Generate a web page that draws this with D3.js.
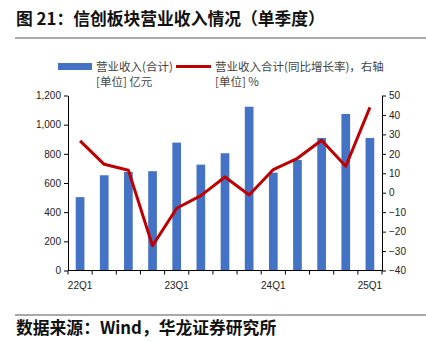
<!DOCTYPE html>
<html>
<head>
<meta charset="utf-8">
<script src="https://cdn.jsdelivr.net/npm/d3@7"></script>
<style>
  html, body { margin: 0; padding: 0; background: #fff; }
  svg { display: block; }
</style>
</head>
<body>
<svg id="chart" width="426" height="342"></svg>
<script>
// Quarterly revenue of the IT-innovation sector (亿元) and its YoY growth (%)
const quarters = ["22Q1","22Q2","22Q3","22Q4","23Q1","23Q2","23Q3","23Q4","24Q1","24Q2","24Q3","24Q4","25Q1"];
const revenue = [503, 653, 676, 681, 877, 726, 804, 1123, 671, 758, 909, 1073, 909];
const growth = [26.7, 14.6, 11.6, -27.3, -8.0, -1.5, 8.1, -1.2, 11.9, 17.7, 27.0, 13.6, 43.9];
const leftTicks = [0, 200, 400, 600, 800, 1000, 1200];
const rightTicks = [-40, -30, -20, -10, 0, 10, 20, 30, 40, 50];
const shownQuarters = ["22Q1", "23Q1", "24Q1", "25Q1"];

const svg = d3.select("#chart");
const cjk = "'Noto Sans CJK SC', 'Noto Sans', sans-serif";
const latin = "Arial, 'Liberation Sans', sans-serif";

const plot = { left: 68, right: 382, top: 95.5, bottom: 270.5 };

const x = d3.scaleBand().domain(quarters).range([plot.left, plot.right]).paddingInner(0).paddingOuter(0);
const yL = d3.scaleLinear().domain([0, 1200]).range([plot.bottom, plot.top]);
const yR = d3.scaleLinear().domain([-40, 50]).range([plot.bottom, plot.top]);

// Title
svg.append("text")
  .attr("x", 16).attr("y", 25)
  .attr("font-family", cjk).attr("font-weight", "bold").attr("font-size", 16.8)
  .attr("fill", "#111")
  .text("图 21：信创板块营业收入情况（单季度）");

svg.append("line").attr("x1", 15).attr("x2", 426).attr("y1", 38).attr("y2", 38)
  .attr("stroke", "#555").attr("stroke-width", 1.2);

// Legend
const lg = svg.append("g").attr("font-family", cjk).attr("font-size", 11.5).attr("fill", "#444");
lg.append("rect").attr("x", 58).attr("y", 63).attr("width", 34).attr("height", 7).attr("fill", "#4472c4");
lg.append("text").attr("x", 96).attr("y", 71).text("营业收入(合计)");
lg.append("text").attr("x", 96).attr("y", 85.5).text("[单位] 亿元");
lg.append("line").attr("x1", 176).attr("x2", 211).attr("y1", 66.5).attr("y2", 66.5)
  .attr("stroke", "#c00000").attr("stroke-width", 3);
lg.append("text").attr("x", 215).attr("y", 71).text("营业收入合计(同比增长率)，右轴");
lg.append("text").attr("x", 215).attr("y", 85.5).text("[单位] %");

// Bars
const barW = x.bandwidth() * 0.36;
svg.append("g").selectAll("rect").data(quarters).join("rect")
  .attr("x", d => x(d) + (x.bandwidth() - barW) / 2)
  .attr("width", barW)
  .attr("y", (d, i) => yL(revenue[i]))
  .attr("height", (d, i) => yL(0) - yL(revenue[i]))
  .attr("fill", "#4472c4");

// Growth line
const line = d3.line()
  .x((d, i) => x(quarters[i]) + x.bandwidth() / 2)
  .y(d => yR(d));
svg.append("path").datum(growth)
  .attr("d", line)
  .attr("fill", "none").attr("stroke", "#c00000").attr("stroke-width", 3)
  .attr("stroke-linejoin", "round");

// Axes
const styleAxis = g => {
  g.selectAll("path.domain").attr("stroke", "#000");
  g.selectAll(".tick line").attr("stroke", "#000");
  g.selectAll("text").attr("font-family", latin).attr("font-size", 10).attr("fill", "#222");
};

svg.append("g").attr("transform", `translate(${plot.left},0)`)
  .call(d3.axisLeft(yL).tickValues(leftTicks).tickSize(4).tickSizeOuter(0).tickPadding(3)
    .tickFormat(d3.format(",")))
  .call(styleAxis);

svg.append("g").attr("transform", `translate(${plot.right},0)`)
  .call(d3.axisRight(yR).tickValues(rightTicks).tickSize(4).tickSizeOuter(0).tickPadding(3)
    .tickFormat(d => d < 0 ? "\u2212" + Math.abs(d) : d))
  .call(styleAxis);

// Bottom axis: ticks on band boundaries, labels on selected quarters
const xg = svg.append("g").attr("transform", `translate(0,${plot.bottom})`);
xg.append("line").attr("x1", plot.left).attr("x2", plot.right).attr("stroke", "#000");
const bounds = quarters.map(q => x(q)).concat([plot.right]);
xg.selectAll("line.tk").data(bounds).join("line").attr("class", "tk")
  .attr("x1", d => d).attr("x2", d => d).attr("y1", 0).attr("y2", 4).attr("stroke", "#000");
xg.selectAll("text").data(shownQuarters).join("text")
  .attr("x", d => x(d) + x.bandwidth() / 2)
  .attr("y", 18)
  .attr("text-anchor", "middle")
  .attr("font-family", latin).attr("font-size", 10).attr("fill", "#222")
  .text(d => d);

// Footer
svg.append("line").attr("x1", 15).attr("x2", 426).attr("y1", 315).attr("y2", 315)
  .attr("stroke", "#555").attr("stroke-width", 1.2);
svg.append("text")
  .attr("x", 16).attr("y", 334)
  .attr("font-family", cjk).attr("font-weight", "bold").attr("font-size", 16.8)
  .attr("fill", "#111")
  .text("数据来源：Wind，华龙证券研究所");
</script>
</body>
</html>
